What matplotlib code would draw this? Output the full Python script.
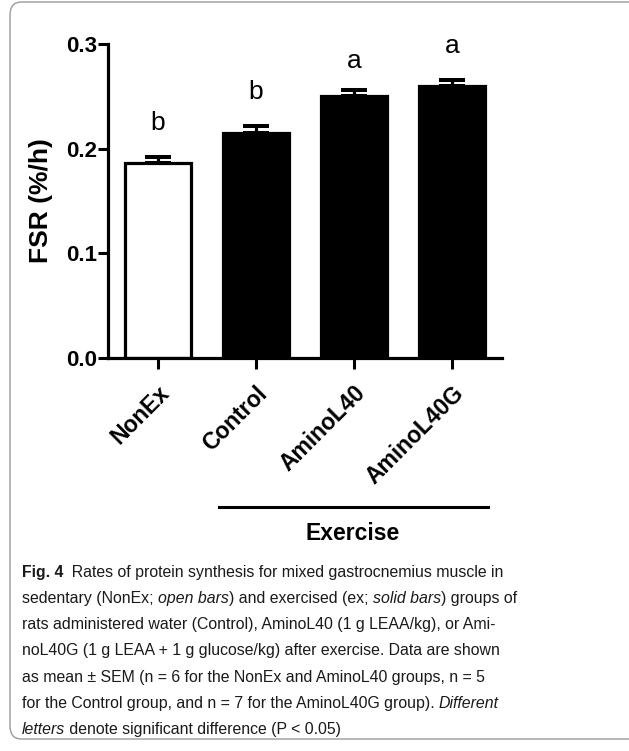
import numpy as np
import matplotlib
matplotlib.use('Agg')
import matplotlib.pyplot as plt
from matplotlib import font_manager
from matplotlib.patches import FancyBboxPatch
from matplotlib.lines import Line2D

groups = ['NonEx', 'Control', 'AminoL40', 'AminoL40G']
fsr = [0.186, 0.215, 0.250, 0.2595]
sem = [0.006, 0.0065, 0.0058, 0.0058]
letters = ['b', 'b', 'a', 'a']
letter_y = [0.225, 0.254, 0.284, 0.298]
face = ['white', 'black', 'black', 'black']
yticks = [0.0, 0.1, 0.2, 0.3]


def pick_font(names):
    for n in names:
        try:
            font_manager.findfont(n, fallback_to_default=False)
            return n
        except ValueError:
            pass
    return 'DejaVu Sans'


chart_font = [pick_font(['Liberation Sans Narrow', 'Liberation Sans', 'Arial']), 'DejaVu Sans']
W, H = 629, 751

fig = plt.figure(figsize=(W / 100, H / 100), dpi=100)

# rounded frame around figure + caption
box = FancyBboxPatch((10 / W, 12 / H), 640 / W, 737 / H,
                     boxstyle='round,pad=0,rounding_size=0.018',
                     transform=fig.transFigure, fill=False,
                     edgecolor='#9a9a9a', lw=1.0)
fig.patches.append(box)

ax = fig.add_axes([108 / W, 1 - 358 / H, 394 / W, 314 / H])
x = np.arange(len(groups))
ax.bar(x, fsr, width=0.68, color=face, edgecolor='black', linewidth=2.3, zorder=2)
ax.errorbar(x, fsr, yerr=[np.zeros(len(sem)), sem], fmt='none', ecolor='black',
            elinewidth=2.3, capsize=9.7, capthick=2.9, zorder=1)
for xi, lt, ly in zip(x, letters, letter_y):
    ax.text(xi, ly, lt, ha='center', va='center', fontsize=19, family=chart_font)

ax.set_xlim(-0.51, 3.51)
ax.set_ylim(0, 0.3)
ax.set_yticks(yticks)
ax.set_yticklabels(['%.1f' % v for v in yticks], fontsize=16, fontweight='bold', family=chart_font)
ax.set_xticks(x)
ax.set_xticklabels(groups, rotation=45, ha='right', rotation_mode='anchor',
                   fontsize=16.5, fontweight='bold', family=chart_font)
ax.tick_params(axis='y', width=2.2, length=7, direction='out', pad=1)
ax.tick_params(axis='x', width=2.2, length=8, direction='out', pad=9)
for s in ['top', 'right']:
    ax.spines[s].set_visible(False)
for s in ['left', 'bottom']:
    ax.spines[s].set_linewidth(2.3)
ax.set_ylabel('FSR (%/h)', fontsize=19, fontweight='bold', family=chart_font, labelpad=9)

# Exercise bracket
fig.add_artist(Line2D([219 / W, 488 / W], [1 - 507 / H, 1 - 507 / H],
                      transform=fig.transFigure, color='black', lw=2.2))
fig.text(353 / W, 1 - 533 / H, 'Exercise', ha='center', va='center',
         fontsize=16.5, fontweight='bold', family=chart_font)

# caption
cap_lines = [
    [('Fig. 4', 'bold'), ('  Rates of protein synthesis for mixed gastrocnemius muscle in', 'normal')],
    [('sedentary (NonEx; ', 'normal'), ('open bars', 'italic'), (') and exercised (ex; ', 'normal'),
     ('solid bars', 'italic'), (') groups of', 'normal')],
    [('rats administered water (Control), AminoL40 (1 g LEAA/kg), or Ami-', 'normal')],
    [('noL40G (1 g LEAA + 1 g glucose/kg) after exercise. Data are shown', 'normal')],
    [('as mean \u00b1 SEM (n = 6 for the NonEx and AminoL40 groups, n = 5', 'normal')],
    [('for the Control group, and n = 7 for the AminoL40G group). ', 'normal'), ('Different', 'italic')],
    [('letters', 'italic'), (' denote significant difference (P < 0.05)', 'normal')],
]
renderer = fig.canvas.get_renderer()
y0 = 572
for i, segs in enumerate(cap_lines):
    xpos = 22
    yy = 1 - (y0 + i * 26.3) / H
    for txt, sty in segs:
        kw = dict(fontsize=11.4, family=chart_font, va='center', ha='left', color='#1a1a1a')
        if sty == 'bold':
            kw['fontweight'] = 'bold'
        elif sty == 'italic':
            kw['fontstyle'] = 'italic'
        t = fig.text(xpos / W, yy, txt, **kw)
        bb = t.get_window_extent(renderer=renderer)
        xpos = bb.x1

fig.savefig('out.png', dpi=100)
